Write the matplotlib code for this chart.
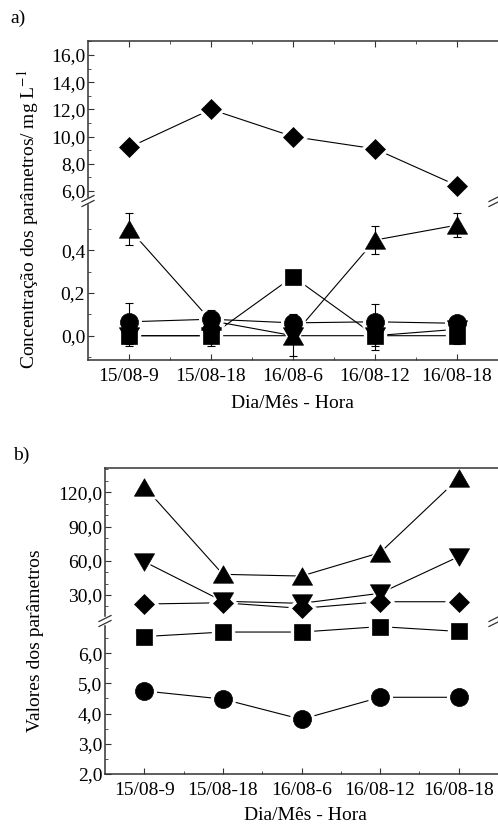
import matplotlib
matplotlib.use("Agg")
import matplotlib.pyplot as plt
from matplotlib.ticker import MultipleLocator, FuncFormatter, FixedLocator
from matplotlib.lines import Line2D
from matplotlib.path import Path

plt.rcParams["font.family"] = ["Liberation Serif", "DejaVu Serif"]
plt.rcParams["mathtext.fontset"] = "stix"

# dados
horarios = ["15/08-9", "15/08-18", "16/08-6", "16/08-12", "16/08-18"]

# painel a) concentracoes (mg/L)
a_losango = [9.2, 12.0, 10.0, 9.1, 6.4]
a_triangulo = [0.50, 0.07, 0.0, 0.447, 0.517]
a_triangulo_err = [0.075, 0.0, 0.0, 0.067, 0.055]
a_circulo = [0.065, 0.077, 0.06, 0.065, 0.058]
a_circulo_err = [0.09, 0.045, 0.04, 0.085, 0.0]
a_quadrado = [0.0, 0.0, 0.276, 0.0, 0.0]
a_quadrado_err = [0.05, 0.05, 0.0, 0.05, 0.04]
a_triang_inv = [0.0, 0.0, 0.0, 0.0, 0.03]
a_triang_inv_err = [0.04, 0.0, 0.095, 0.068, 0.0]

# painel b) valores dos parametros
b_triangulo = [124.9, 48.1, 46.6, 67.1, 132.3]
b_triang_inv = [59.2, 24.5, 22.7, 31.5, 63.6]
b_losango = [22.1, 23.2, 18.3, 24.1, 24.1]
b_quadrado = [6.55, 6.70, 6.70, 6.88, 6.72]
b_circulo = [4.75, 4.48, 3.81, 4.54, 4.54]

W, H = 498, 831
x = list(range(1, len(horarios) + 1))

tri_up = Path([(-1, -0.866), (1, -0.866), (0, 0.866), (-1, -0.866)],
              [Path.MOVETO, Path.LINETO, Path.LINETO, Path.CLOSEPOLY])
tri_dn = Path([(-1, 0.866), (1, 0.866), (0, -0.866), (-1, 0.866)],
              [Path.MOVETO, Path.LINETO, Path.LINETO, Path.CLOSEPOLY])

fmt = FuncFormatter(lambda v, p: f"{v:.1f}".replace(".", ","))


def caixa(l, t, r, b):
    return [l / W, 1 - b / H, (r - l) / W, (b - t) / H]


def serie(ax, y, marker, ms, err=None):
    ax.plot(x, y, "-", color="k", lw=0.8, zorder=1)
    ax.plot(x, y, ls="none", marker=marker, ms=ms + 4, mfc="white",
            mec="white", zorder=2, clip_on=False)
    if err is not None:
        ax.errorbar(x, y, yerr=err, fmt="none", ecolor="k", elinewidth=0.8,
                    capsize=3, capthick=0.8, zorder=2.5)
    ax.plot(x, y, ls="none", marker=marker, ms=ms, mfc="k", mec="k",
            mew=0.5, zorder=3, clip_on=False)


def estilo(ax, parte, top_ticks=False):
    for s in ax.spines.values():
        s.set_color("#333333")
        s.set_linewidth(1.1)
    ax.spines["right"].set_visible(False)
    ax.set_xlim(0.5, 5.5)
    ax.yaxis.set_major_formatter(fmt)
    ax.tick_params(axis="both", which="both", direction="in", labelsize=14,
                   colors="#333333", labelcolor="k")
    ax.tick_params(which="major", length=4.5)
    ax.tick_params(which="minor", length=2.5)
    ax.tick_params(axis="y", which="both", right=False, pad=2)
    ax.xaxis.set_major_locator(FixedLocator(x))
    ax.xaxis.set_minor_locator(FixedLocator([1.5, 2.5, 3.5, 4.5]))
    if parte == "sup":
        ax.spines["bottom"].set_visible(False)
        ax.tick_params(axis="x", which="both", bottom=False, labelbottom=False,
                       top=top_ticks)
    else:
        ax.spines["top"].set_visible(False)
        ax.tick_params(axis="x", which="both", top=False, pad=6)
        ax.set_xticklabels(horarios)


def quebra(fig, xc, yc):
    for off in (-2.5, 2.5):
        xs = [(xc - 6) / W, (xc + 6) / W]
        ys = [1 - (yc + off + 3) / H, 1 - (yc + off - 3) / H]
        fig.add_artist(Line2D(xs, ys, color="#333333", lw=0.9))


fig = plt.figure(figsize=(W / 100, H / 100), dpi=100)

# ---- painel a ----
aa = fig.add_axes(caixa(88, 40.7, 498, 197))
ab = fig.add_axes(caixa(88, 205, 498, 360))
serie(aa, a_losango, "D", 10.5)
serie(ab, a_triang_inv, tri_dn, 14.5, a_triang_inv_err)
serie(ab, a_quadrado, "s", 12, a_quadrado_err)
serie(ab, a_circulo, "o", 13, a_circulo_err)
serie(ab, a_triangulo, tri_up, 14.5, a_triangulo_err)
aa.set_ylim(5.56, 17.05)
ab.set_ylim(-0.1136, 0.611)
aa.yaxis.set_major_locator(MultipleLocator(2))
aa.yaxis.set_minor_locator(MultipleLocator(1))
ab.yaxis.set_major_locator(FixedLocator([0.0, 0.2, 0.4]))
ab.yaxis.set_minor_locator(FixedLocator([-0.1, 0.1, 0.3, 0.5]))
estilo(aa, "sup", top_ticks=True)
estilo(ab, "inf")

# ---- painel b ----
ba = fig.add_axes(caixa(105, 468.3, 498, 616))
bb = fig.add_axes(caixa(105, 626, 498, 774))
serie(ba, b_losango, "D", 10.5)
serie(ba, b_triang_inv, tri_dn, 14.5)
serie(ba, b_triangulo, tri_up, 14.5)
serie(bb, b_quadrado, "s", 12)
serie(bb, b_circulo, "o", 13)
ba.set_ylim(11.6, 141.0)
bb.set_ylim(2.0, 6.9)
ba.yaxis.set_major_locator(MultipleLocator(30))
ba.yaxis.set_minor_locator(MultipleLocator(10))
bb.yaxis.set_major_locator(MultipleLocator(1))
bb.yaxis.set_minor_locator(MultipleLocator(0.5))
estilo(ba, "sup", top_ticks=False)
estilo(bb, "inf")

# marcas de quebra do eixo
quebra(fig, 88, 201)
quebra(fig, 495, 201)
quebra(fig, 105, 621)
quebra(fig, 495, 621)

# textos
fig.text(18 / W, 1 - 18 / H, "a)", fontsize=14, ha="center", va="center")
fig.text(21 / W, 1 - 455 / H, "b)", fontsize=14, ha="center", va="center")
fig.text(28 / W, 1 - 219 / H, "Concentração dos parâmetros/ mg L$^{-1}$",
         rotation=90, fontsize=14, ha="center", va="center")
fig.text(36 / W, 1 - 641 / H, "Valores dos parâmetros", rotation=90,
         fontsize=14, ha="center", va="center")
fig.text(292 / W, 1 - 403 / H, "Dia/Mês - Hora", fontsize=14,
         ha="center", va="center")
fig.text(305 / W, 1 - 816 / H, "Dia/Mês - Hora", fontsize=14,
         ha="center", va="center")

fig.savefig("out.png", dpi=100)
